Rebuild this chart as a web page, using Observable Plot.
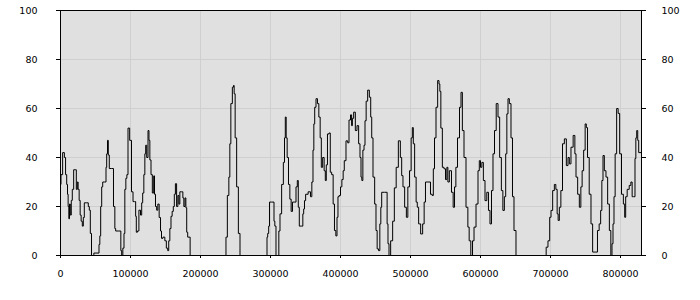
<!DOCTYPE html>
<html>
<head>
<meta charset="utf-8">
<script src="https://cdn.jsdelivr.net/npm/d3@7"></script>
<script src="https://cdn.jsdelivr.net/npm/@observablehq/plot@0.6"></script>
<style>
  body { margin: 0; background: white; }
</style>
</head>
<body>
<div id="chart"></div>
<script>
const xTicks = [0, 100000, 200000, 300000, 400000, 500000, 600000, 700000, 800000];
const yTicks = [0, 20, 40, 60, 80, 100];

const positions = [
0,1400,4700,6400,8100,9600,10400,11400,12400,13300,14700,16100,17600,20000,21900,23300,24700,25700,27600,28600,
30400,31900,33300,34700,39000,40400,41900,43300,45300,50000,54300,55700,56700,58100,59600,61000,64700,65300,66700,67600,
69000,70400,74700,76700,78600,79000,85700,86700,88100,90000,91400,92400,94300,95300,97600,100000,102900,104300,107100,107600,
109000,110700,113300,115300,116700,118100,120000,121000,122400,123900,126100,126700,128600,130000,132400,133900,134700,136700,138100,140000,
141900,143900,144700,148100,150000,152400,153900,155300,157100,158600,160400,161900,163300,165000,166700,168600,169600,171400,174300,175300,
177100,178600,179600,181000,182400,184700,185700,235700,237100,239600,241400,242400,244300,246700,247600,248600,250400,252900,255300,257600,
294700,295300,296700,298100,299000,304700,305300,307100,308600,311400,312400,314700,317100,319600,320400,321900,322900,324700,326700,328600,
330400,332400,335300,337600,339000,340400,341900,345700,346700,348100,349000,351400,356100,358100,360000,361400,362400,363900,366100,368100,
370000,371900,373300,375700,377600,379000,380400,382400,384700,386100,388600,390400,392400,394300,395700,397100,399000,401000,402900,404700,
406100,409600,411000,413300,415300,416400,417600,420000,422400,424700,427100,428600,430000,431000,432900,434300,435700,437600,440000,442400,
443900,445300,447600,450000,451400,453300,455300,457100,458100,459600,466100,467100,468600,470000,473300,475700,478100,481000,484300,486700,
488100,490400,492900,495300,497100,500000,501900,503300,504700,507100,509000,510400,512900,516100,518600,520400,522400,527100,530000,531900,
533300,535300,537600,540000,541400,542400,544300,546700,549000,551000,552900,553900,557100,560000,561900,563900,565700,568600,571400,572900,
575300,577600,581000,582900,584700,587600,589600,591900,595300,597600,599000,601000,602900,605300,607600,610400,612400,614700,616700,619000,
621000,623900,626100,628600,631000,632900,635300,636700,638600,640000,642400,644700,646700,649000,652400,692900,694700,698100,699600,701900,
704300,706700,708600,710400,711400,713900,715700,718600,721000,724300,725700,728100,730400,734300,735300,737600,740000,742400,744300,746100,
748600,750400,751900,753900,756700,759000,761400,766100,768100,770900,772400,774300,775700,778100,780400,782900,785300,787100,788600,790000,
791400,793300,795700,797600,800000,802900,805300,806700,808100,811000,813900,815700,817600,820000,821400,822400,823900,825300,826700,829000,
830000
];

const values = [
29,33,42,40,33,29,25,20,15,21,16.5,22.5,27,35,35,27,30,27,22.5,16.5,
14,12,15.5,21.5,21.5,20,18.5,9,0,1,1,4.5,8,20,28,30,30,36,41.5,47,
41,35.5,35.5,20,11,10,10,2,0,3,9,27,31.5,33,52,47,26,22,22,16,
9.5,10,18.5,16.5,21.5,25.5,33,41.5,45,40,51,47,39,33,25.5,32.5,25,20,18.5,21,
15.5,10,7,7.5,6,3,2,6,11,16,18,20,25,29.3,20,24.5,21,26,26,23.5,
20,23.5,19.5,9.5,7.5,7.5,0,0,7.5,24.5,32,45.6,62,68.7,69.4,66,48,28,9,0,
0,7.5,9,12,21.8,21.8,14,12,0,0,10,17,29,38,48,56.5,48,40,29,23,
18,21.8,21.8,28,30.6,19.7,12,12,17,19,22.4,25,26,24,30,43,53.7,60.5,64,62,
56.5,48,36,40,34.6,30.6,37,49.6,50,34,33,21,10.2,8,15.6,24,24.5,28,31,34.6,
38.7,46.8,46,55.3,57.4,53,56,58.5,51,53,45.6,40,32,30.6,43,45,55,63,67.5,64.6,
56.5,48,32,21,10.2,2.7,2,12.9,19.7,25.8,25.8,12.9,4.8,0,6,14,27.6,36,46.8,40,
32.6,28,19.7,15.6,28,34.6,48,52.2,45.6,32,21.8,19.7,12.9,8.8,12.9,21.8,30,30,25,24.5,
35.4,48,60.5,71.4,70,67,52,36,35.4,31,36,30,34.6,25.8,19.7,28,36,48,60.5,66.6,
51,40,19.7,11.6,6,0,6,11.6,21,34.6,38.7,36,38,30.6,22.4,25.8,18.4,12.9,26.5,41.5,
51,62,56.5,40,26.5,18.4,24,41.5,57.8,64,62,48,24,10.2,0,0,3.4,6,15.6,18.4,
26.5,29,27,17,14.3,19.7,26.5,45.6,47.6,36.7,40,37.4,44.2,49,41.5,32,25,19.7,28,34.6,
43,53.7,52.2,40,25,12.9,1.4,1.4,10.2,12.9,18.4,30.6,40.8,34.6,32,21,10.2,0,4.8,12.9,
24,41.5,60,58,41.5,25,21,15.6,24,27,28.6,30,24,24,39.6,48,51,47,42,42,
42
];

const data = positions.map((x, i) => ({x, y: values[i]}));

const chart = Plot.plot({
  width: 700,
  height: 300,
  marginLeft: 60,
  marginRight: 59,
  marginTop: 10,
  marginBottom: 45,
  style: {fontFamily: "DejaVu Sans", fontSize: "9.5px", color: "black", background: "white"},
  x: {domain: [0, 830000]},
  y: {domain: [0, 100]},
  marks: [
    Plot.frame({fill: "#e0e0e0", stroke: null}),
    Plot.gridX(xTicks, {stroke: "#cfcfcf", strokeOpacity: 1}),
    Plot.gridY(yTicks, {stroke: "#cfcfcf", strokeOpacity: 1}),
    Plot.line(data, {x: "x", y: "y", curve: "step", stroke: "black", strokeWidth: 1}),
    Plot.frame({stroke: "black", strokeWidth: 1}),
    Plot.axisY(yTicks, {anchor: "left", tickSize: 4, tickPadding: 19, label: null}),
    Plot.axisY(yTicks, {anchor: "right", tickSize: 4, tickPadding: 16, label: null}),
    Plot.axisX(xTicks, {anchor: "bottom", tickSize: 3, tickPadding: 12, tickFormat: d3.format("d"), label: null})
  ]
});
document.getElementById("chart").appendChild(chart);
</script>
</body>
</html>
